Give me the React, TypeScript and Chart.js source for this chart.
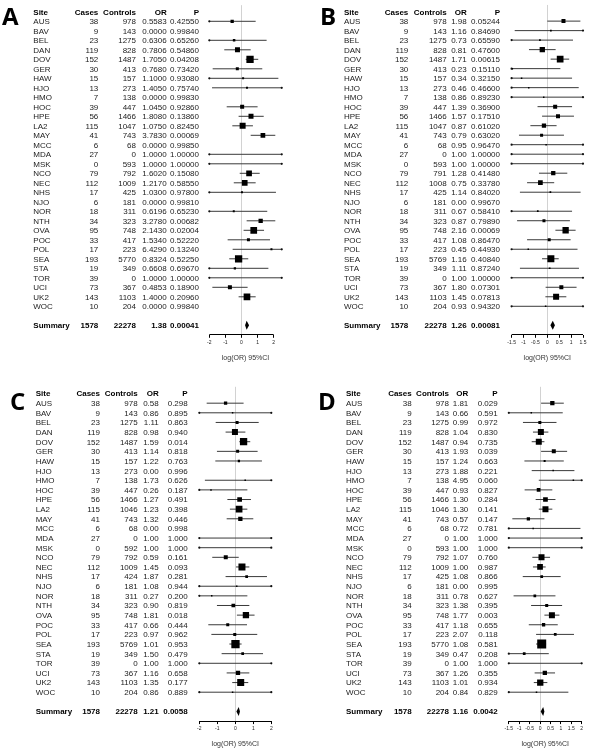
import React, { useEffect, useRef } from "react";
import { Chart, registerables } from "chart.js";

Chart.register(...registerables);

// ---------------- data ----------------
const sites = ["AUS","BAV","BEL","DAN","DOV","GER","HAW","HJO","HMO","HOC","HPE","LA2","MAY","MCC","MDA","MSK","NCO","NEC","NHS","NJO","NOR","NTH","OVA","POC","POL","SEA","STA","TOR","UCI","UK2","WOC"];
const cases = [38,9,23,119,152,30,15,13,7,39,56,115,41,6,27,0,79,112,17,6,18,34,95,33,17,193,19,39,73,143,10];
const headers = ["Site","Cases","Controls","OR","P"];
const axisTitle = "log(OR) 95%CI";

// Panel A
const controlsA = [978,143,1275,828,1487,413,157,273,138,447,1466,1047,743,68,0,593,792,1009,425,181,311,323,748,417,223,5770,349,0,367,1103,204];
const orA = ["0.5583","0.0000","0.6306","0.7806","1.7050","0.7680","1.1000","1.4050","0.0000","1.0450","1.8080","1.0750","3.7830","0.0000","1.0000","1.0000","1.6020","1.2170","1.0300","0.0000","0.6196","3.2780","2.1430","1.5340","6.4290","0.8324","0.6608","1.0000","0.4853","1.4000","0.0000"];
const pA = ["0.42550","0.99840","0.65260","0.54860","0.04208","0.73420","0.93080","0.75740","0.99830","0.92860","0.13860","0.82450","0.00069","0.99850","1.00000","1.00000","0.15080","0.58550","0.97800","0.99810","0.65230","0.00682","0.02004","0.52220","0.13240","0.52250","0.69670","1.00000","0.18900","0.20960","0.99840"];
const estA = [-0.58,null,-0.46,-0.25,0.53,-0.26,0.10,0.34,null,0.04,0.59,0.07,1.33,null,0,0,0.47,0.20,0.03,null,-0.48,1.19,0.76,0.43,1.86,-0.18,-0.41,0,-0.72,0.34,null];
const loA = [-3,null,-3,-1.07,0.26,-1.79,-3,-1.83,null,-0.92,-0.18,-0.57,0.57,null,-3,-3,-0.11,-0.48,-3,null,-3,0.32,0.13,-0.86,-0.55,-0.76,-3,-3,-1.81,-0.18,null];
const hiA = [0.88,null,1.56,0.57,1.04,1.29,2.29,3,null,1.0,1.38,0.71,2.1,null,3,3,1.13,0.88,2.14,null,1.6,2.1,1.4,1.77,3,0.42,1.67,3,0.38,0.88,null];
const weightA = [3.3,0,2.5,5,7.3,3,2,2,0,4,5,6,4.7,0,0,0,5.7,5.7,2,0,2,4.3,6.7,3,2,7.3,2.3,0,4,6.7,0];
const summaryA = { cases: 1578, controls: 22278, or: "1.38", p: "0.00041", est: 0.32, lo: 0.22, hi: 0.47 };
const ticksA = [-2,-1,0,1,2];

// Panel B
const controlsB = [978,143,1275,828,1487,413,157,273,138,447,1466,1047,743,68,0,593,791,1008,425,181,311,323,748,417,223,5769,349,0,367,1103,204];
const orB = ["1.98","1.16","0.73","0.81","1.71","0.23","0.34","0.46","0.86","1.39","1.57","0.87","0.79","0.95","1.00","1.00","1.28","0.75","1.14","0.00","0.67","0.87","2.16","1.08","0.45","1.16","1.11","1.00","1.80","1.45","0.93"];
const pB = ["0.05244","0.84690","0.65590","0.47600","0.00615","0.15110","0.32150","0.46600","0.89230","0.36900","0.17510","0.61020","0.63020","0.96470","1.00000","1.00000","0.41480","0.33780","0.84020","0.99670","0.58410","0.79890","0.00069","0.86470","0.44930","0.40840","0.87240","1.00000","0.07301","0.07813","0.94320"];
const estB = [0.68,0.15,-0.31,-0.21,0.54,-1.47,-1.08,-0.78,-0.15,0.33,0.45,-0.14,-0.24,-0.05,0,0,0.25,-0.29,0.13,null,-0.40,-0.14,0.77,0.08,-0.80,0.15,0.10,0,0.59,0.37,-0.07];
const loB = [0.0,-1.37,-3,-0.77,0.14,-3,-3,-3,-3,-0.41,-0.22,-0.71,-1.19,-3,-3,-3,-0.35,-0.85,-1.15,null,-3,-1.27,0.34,-0.85,-3,-0.22,-1.15,-3,-0.07,-0.08,-3];
const hiB = [1.39,3,1.08,0.35,0.92,0.55,1.04,1.32,3,1.04,1.12,0.39,0.70,3,3,3,0.84,0.29,1.4,null,1.04,0.95,1.19,0.98,1.27,0.48,1.33,3,1.23,0.80,3];
const weightB = [4,1.7,1.7,5.3,6.7,1.5,1.5,1.5,1.5,4,4,4.3,3,1.5,0,0,4.3,4.7,1.7,0,1.7,3,6.3,3,1.5,7,1.7,0,4,6,1.5];
const summaryB = { cases: 1578, controls: 22278, or: "1.26", p: "0.00081", est: 0.23, lo: 0.13, hi: 0.32 };
const ticksB = [-1.5,-1,-0.5,0,0.5,1,1.5];

// Panel C
const controlsC = [978,143,1275,828,1487,413,157,273,138,447,1466,1046,743,68,0,592,792,1009,424,181,311,323,748,417,223,5769,349,0,367,1103,204];
const orC = ["0.58","0.86","1.11","0.98","1.59","1.14","1.22","0.00","1.73","0.26","1.27","1.23","1.32","0.00","1.00","1.00","0.59","1.45","1.87","1.08","0.27","0.90","1.81","0.66","0.97","1.01","1.50","1.00","1.16","1.35","0.86"];
const pC = ["0.298","0.895","0.863","0.940","0.014","0.818","0.763","0.996","0.626","0.187","0.491","0.398","0.446","0.998","1.000","1.000","0.161","0.093","0.281","0.944","0.200","0.819","0.018","0.444","0.962","0.953","0.479","1.000","0.658","0.177","0.889"];
const estC = [-0.54,-0.15,0.10,-0.02,0.46,0.13,0.20,null,0.55,-1.35,0.24,0.21,0.28,null,0,0,-0.53,0.37,0.63,0.08,-1.31,-0.11,0.59,-0.42,-0.03,0.01,0.41,0,0.15,0.30,-0.15];
const loC = [-1.59,-3,-1.09,-0.54,0.22,-1.02,-1.11,null,-1.69,-3,-0.44,-0.30,-0.48,null,-3,-3,-1.28,0.04,-0.54,-3,-3,-1.02,0.09,-1.5,-1.33,-0.33,-0.76,-3,-0.48,-0.17,-3];
const hiC = [0.46,3,1.30,0.56,0.83,1.24,1.48,null,3,0.67,0.87,0.67,1.0,null,3,3,0.19,0.78,1.76,3,0.67,0.78,1.07,0.65,1.22,0.35,1.54,3,0.78,0.72,3];
const weightC = [3.3,1.5,3,6,7.3,3,2.3,0,1.5,1.5,4.7,6.7,4.3,0,0,0,4,7,2.7,1.5,1.5,3.7,6.3,3,3,8.3,2.7,0,4.3,7,1.5];
const summaryC = { cases: 1578, controls: 22278, or: "1.21", p: "0.0058", est: 0.19, lo: 0.06, hi: 0.26 };
const ticksC = [-2,-1,0,1,2];

// Panel D
const controlsD = [978,143,1275,828,1487,413,157,273,138,447,1466,1046,743,68,0,593,792,1009,425,181,311,323,748,417,223,5770,349,0,367,1103,204];
const orD = ["1.81","0.66","0.99","1.04","0.94","1.93","1.24","1.88","4.95","0.93","1.30","1.30","0.57","0.72","1.00","1.00","1.07","1.00","1.08","0.00","0.78","1.38","1.77","1.18","2.07","1.08","0.47","1.00","1.26","1.01","0.84"];
const pD = ["0.029","0.591","0.972","0.830","0.735","0.039","0.663","0.221","0.060","0.827","0.284","0.141","0.147","0.781","1.000","1.000","0.760","0.987","0.866","0.995","0.627","0.395","0.003","0.655","0.118","0.581","0.208","1.000","0.355","0.934","0.829"];
const estD = [0.59,-0.42,-0.01,0.04,-0.06,0.66,0.22,0.63,1.60,-0.07,0.26,0.26,-0.56,-0.33,0,0,0.07,0.0,0.08,null,-0.25,0.32,0.57,0.17,0.73,0.08,-0.76,0,0.23,0.01,-0.17];
const loD = [0.05,-3,-0.82,-0.34,-0.40,0.05,-0.75,-0.40,-0.06,-0.74,-0.21,-0.06,-1.33,-3,-3,-3,-0.37,-0.34,-0.83,null,-1.27,-0.43,0.21,-0.54,-0.19,-0.19,-3,-3,-0.26,-0.30,-3];
const hiD = [1.14,1.09,0.79,0.40,0.21,1.30,1.14,1.65,3,0.59,0.74,0.59,0.21,1.94,3,3,0.48,0.27,0.99,null,0.74,1.06,0.93,0.85,1.63,0.29,0.42,3,0.72,0.35,1.36];
const weightD = [4.3,1.5,3,6,6,4,2,1.5,1.5,3.7,4.7,6,3.3,1.5,0,0,6,5.7,2.7,0,2.7,3,6,3.3,2.7,9,2.7,0,4.3,6.3,1.5];
const summaryD = { cases: 1578, controls: 22278, or: "1.16", p: "0.0042", est: 0.15, lo: 0.03, hi: 0.21 };
const ticksD = [-1.5,-1,-0.5,0,0.5,1,1.5,2];

// ---------------- layout (positions / styles) ----------------
const SUMMARY_ROW = 32;
const HEADER_ROW = -1;
const FONT = '"Liberation Sans", Arial, sans-serif';

const layoutA = { left: 0, top: 0, w: 295, h: 375, xMin: -2, xMax: 2.5, pad: { left: 209.3, right: 13.25, top: 0.2, bottom: 12.8 }, cols: [33.3, 98.3, 136, 166.7, 199], letter: { x: 2, y: 25 } };
const layoutB = { left: 295, top: 0, w: 294, h: 375, xMin: -1.5, xMax: 1.5, pad: { left: 216.6, right: 6, top: 0.2, bottom: 12.8 }, cols: [49, 113.3, 151.7, 171.7, 205], letter: { x: 25, y: 25 } };
const layoutC = { left: 0, top: 375, w: 295, h: 375, xMin: -2, xMax: 2, pad: { left: 199.3, right: 23.7, top: 11.8, bottom: 1.5 }, cols: [35.7, 100, 137.7, 158.7, 187.7], letter: { x: 10, y: 35 } };
const layoutD = { left: 295, top: 375, w: 294, h: 375, xMin: -1.5, xMax: 2, pad: { left: 213.8, right: 7.3, top: 11.8, bottom: 1.5 }, cols: [51, 116.7, 154, 173.3, 202.7], letter: { x: 23, y: 35 } };

const panels = [
  { letter: "A", controls: controlsA, or: orA, p: pA, est: estA, lo: loA, hi: hiA, weight: weightA, summary: summaryA, ticks: ticksA, lay: layoutA },
  { letter: "B", controls: controlsB, or: orB, p: pB, est: estB, lo: loB, hi: hiB, weight: weightB, summary: summaryB, ticks: ticksB, lay: layoutB },
  { letter: "C", controls: controlsC, or: orC, p: pC, est: estC, lo: loC, hi: hiC, weight: weightC, summary: summaryC, ticks: ticksC, lay: layoutC },
  { letter: "D", controls: controlsD, or: orD, p: pD, est: estD, lo: loD, hi: hiD, weight: weightD, summary: summaryD, ticks: ticksD, lay: layoutD },
];

function makePlugin(p: any) {
  return {
    id: "forest" + p.letter,
    afterDatasetsDraw(chart: any) {
      const ctx = chart.ctx;
      const xs = chart.scales.x;
      const ys = chart.scales.y;
      const s = p.summary;
      const yc = ys.getPixelForValue(SUMMARY_ROW);
      const hh = ys.getPixelForValue(SUMMARY_ROW + 0.47) - yc;
      ctx.save();
      ctx.fillStyle = "#000";
      ctx.beginPath();
      ctx.moveTo(xs.getPixelForValue(s.lo), yc);
      ctx.lineTo(xs.getPixelForValue(s.est), yc - hh);
      ctx.lineTo(xs.getPixelForValue(s.hi), yc);
      ctx.lineTo(xs.getPixelForValue(s.est), yc + hh);
      ctx.closePath();
      ctx.fill();
      ctx.restore();
    },
    afterDraw(chart: any) {
      const ctx = chart.ctx;
      const xs = chart.scales.x;
      const ys = chart.scales.y;
      const c = p.lay.cols;
      ctx.save();
      ctx.fillStyle = "#000";
      ctx.textBaseline = "alphabetic";
      ctx.textAlign = "left";
      ctx.font = 'bold 24px "Open Sans", "DejaVu Sans", sans-serif';
      ctx.fillText(p.letter, p.lay.letter.x, p.lay.letter.y);

      const put = (txt: string, col: number, row: number, bold: boolean, color: string) => {
        ctx.font = (bold ? "bold " : "") + "8px " + FONT;
        ctx.fillStyle = color;
        ctx.textAlign = col === 0 ? "left" : "right";
        ctx.fillText(txt, c[col], ys.getPixelForValue(row) + 2.9);
      };
      headers.forEach((h, k) => put(h, k, HEADER_ROW, true, "#000"));
      sites.forEach((site, i) => {
        put(site, 0, i, false, "#222");
        put(String(cases[i]), 1, i, false, "#222");
        put(String(p.controls[i]), 2, i, false, "#222");
        put(p.or[i], 3, i, false, "#222");
        put(p.p[i], 4, i, false, "#222");
      });
      const s = p.summary;
      put("Summary", 0, SUMMARY_ROW, true, "#000");
      put(String(s.cases), 1, SUMMARY_ROW, true, "#000");
      put(String(s.controls), 2, SUMMARY_ROW, true, "#000");
      put(s.or, 3, SUMMARY_ROW, true, "#000");
      put(s.p, 4, SUMMARY_ROW, true, "#000");

      const yAxis = Math.floor(chart.chartArea.bottom) + 0.5;
      ctx.strokeStyle = "#000";
      ctx.lineWidth = 1;
      ctx.beginPath();
      ctx.moveTo(xs.getPixelForValue(p.ticks[0]), yAxis);
      ctx.lineTo(xs.getPixelForValue(p.ticks[p.ticks.length - 1]), yAxis);
      ctx.stroke();
      ctx.restore();
    },
  };
}

function buildConfig(p: any) {
  const lay = p.lay;
  const ciPts: any[] = [];
  const sqPts: any[] = [];
  const endPts: any[] = [];
  sites.forEach((_, i) => {
    const lo = p.lo[i];
    const hi = p.hi[i];
    if (lo !== null && hi !== null) {
      ciPts.push({ x: lo, y: i }, { x: hi, y: i }, { x: NaN, y: NaN });
      if (lo < lay.xMin) endPts.push({ x: lay.xMin, y: i });
      if (hi > lay.xMax) endPts.push({ x: lay.xMax, y: i });
    }
    if (p.est[i] !== null && p.weight[i] > 0) sqPts.push({ x: p.est[i], y: i, w: p.weight[i] });
  });

  return {
    type: "scatter",
    data: {
      datasets: [
        {
          data: sqPts,
          pointStyle: "rect",
          pointRadius: (ctx: any) => (ctx.raw ? ctx.raw.w / Math.SQRT2 : 0),
          backgroundColor: "#000",
          borderWidth: 0,
          showLine: false,
        },
        {
          data: endPts,
          pointStyle: "circle",
          pointRadius: 1.1,
          backgroundColor: "#111",
          borderWidth: 0,
          showLine: false,
          clip: false,
        },
        {
          data: ciPts,
          showLine: true,
          spanGaps: false,
          borderColor: "#3a3a3a",
          borderWidth: 1,
          pointRadius: 0,
        },
      ],
    },
    options: {
      responsive: false,
      animation: false,
      events: [],
      devicePixelRatio: 1,
      layout: { padding: lay.pad },
      plugins: { legend: { display: false }, tooltip: { enabled: false } },
      scales: {
        x: {
          type: "linear",
          position: "bottom",
          min: lay.xMin,
          max: lay.xMax,
          bounds: "data",
          afterBuildTicks: (scale: any) => {
            scale.ticks = p.ticks.map((v: number) => ({ value: v }));
          },
          grid: {
            display: true,
            drawOnChartArea: true,
            drawTicks: true,
            tickLength: 3,
            lineWidth: 1,
            color: (ctx: any) => (ctx.tick && ctx.tick.value === 0 ? "#d2d2d2" : "rgba(0,0,0,0)"),
            tickColor: "#000",
          },
          border: { display: false },
          ticks: {
            autoSkip: false,
            maxRotation: 0,
            minRotation: 0,
            padding: 2,
            color: "#222",
            font: { size: 5, family: FONT },
            callback: (v: any) => String(v),
          },
          title: {
            display: true,
            text: axisTitle,
            color: "#333",
            font: { size: 7, family: FONT },
            padding: { top: 6, bottom: 0 },
          },
        },
        y: {
          type: "linear",
          min: -1.7,
          max: 33,
          bounds: "data",
          reverse: true,
          display: false,
        },
      },
    },
    plugins: [makePlugin(p)],
  };
}

function ForestPanel({ panel }: { panel: any }) {
  const ref = useRef<HTMLCanvasElement>(null);
  useEffect(() => {
    const chart = new Chart(ref.current as HTMLCanvasElement, buildConfig(panel) as any);
    return () => chart.destroy();
  }, [panel]);
  const lay = panel.lay;
  return (
    <canvas
      ref={ref}
      width={lay.w}
      height={lay.h}
      style={{ position: "absolute", left: lay.left, top: lay.top, width: lay.w, height: lay.h, display: "block" }}
    />
  );
}

export default function App() {
  return (
    <div style={{ position: "absolute", left: 0, top: 0, width: 589, height: 750, background: "#fff", overflow: "hidden" }}>
      {panels.map((p) => (
        <ForestPanel key={p.letter} panel={p} />
      ))}
    </div>
  );
}
